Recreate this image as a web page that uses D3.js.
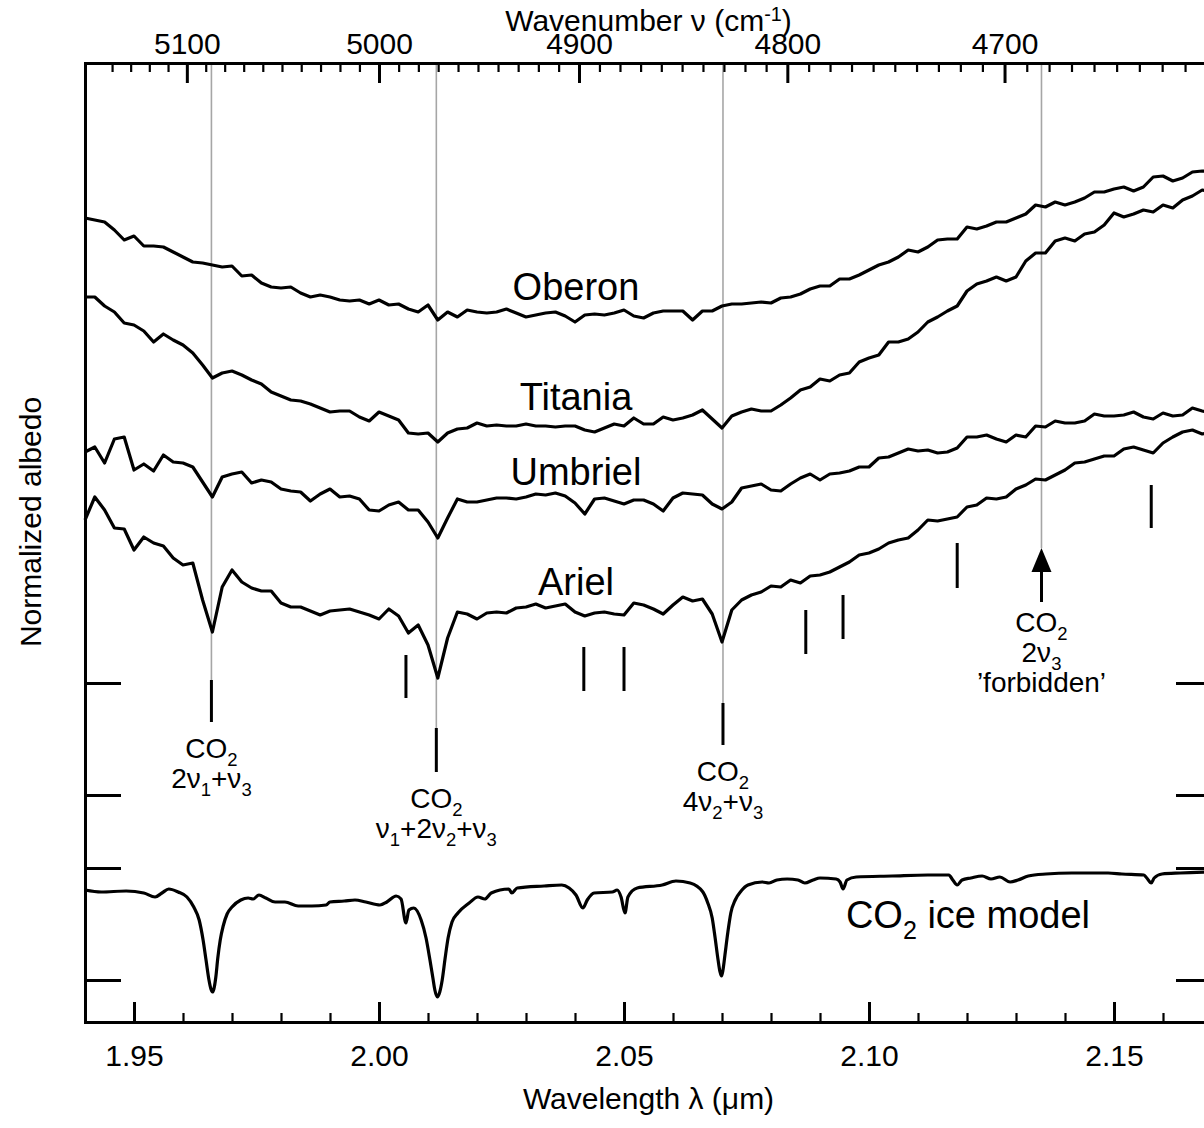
<!DOCTYPE html>
<html>
<head>
<meta charset="utf-8">
<script src="https://cdn.jsdelivr.net/npm/d3@7"></script>
<style>
  html, body { margin: 0; padding: 0; background: #fff; }
  svg { display: block; }
</style>
</head>
<body>
<svg id="chart" width="1204" height="1128"></svg>
<script>
// ---------------- data ----------------
// Common wavelength grid (µm) of the reflectance spectra
const wavelength = [
  1.940,1.942,1.944,1.946,1.948,1.950,1.952,1.954,1.956,1.958,
  1.960,1.962,1.964,1.966,1.968,1.970,1.972,1.974,1.976,1.978,
  1.980,1.982,1.984,1.986,1.988,1.990,1.992,1.994,1.996,1.998,
  2.000,2.002,2.004,2.006,2.008,2.010,2.012,2.014,2.016,2.018,
  2.020,2.022,2.024,2.026,2.028,2.030,2.032,2.034,2.036,2.038,
  2.040,2.042,2.044,2.046,2.048,2.050,2.052,2.054,2.056,2.058,
  2.060,2.062,2.064,2.066,2.068,2.070,2.072,2.074,2.076,2.078,
  2.080,2.082,2.084,2.086,2.088,2.090,2.092,2.094,2.096,2.098,
  2.100,2.102,2.104,2.106,2.108,2.110,2.112,2.114,2.116,2.118,
  2.120,2.122,2.124,2.126,2.128,2.130,2.132,2.134,2.136,2.138,
  2.140,2.142,2.144,2.146,2.148,2.150,2.152,2.154,2.156,2.158,
  2.160,2.162,2.164,2.166,2.168,2.170
];

// Normalized albedo of each satellite (vertically offset for display)
const oberon = [
  .804,.802,.800,.792,.782,.786,.776,.776,.775,.770,
  .765,.760,.759,.757,.755,.756,.746,.747,.739,.735,
  .734,.735,.729,.725,.727,.725,.722,.721,.722,.718,
  .722,.717,.718,.713,.710,.717,.702,.710,.705,.712,
  .710,.709,.710,.713,.709,.705,.707,.709,.710,.706,
  .700,.707,.708,.707,.709,.712,.706,.704,.709,.711,
  .711,.711,.702,.711,.711,.716,.718,.718,.719,.720,
  .719,.724,.725,.728,.733,.736,.736,.743,.743,.747,
  .752,.757,.760,.765,.772,.770,.775,.782,.783,.783,
  .795,.793,.796,.800,.800,.804,.808,.817,.815,.820,
  .817,.820,.824,.830,.830,.833,.835,.831,.835,.845,
  .846,.841,.844,.850,.851,.850
];
const titania = [
  .725,.725,.716,.710,.699,.697,.691,.680,.688,.682,
  .677,.669,.657,.644,.649,.651,.647,.642,.638,.630,
  .626,.622,.621,.618,.614,.610,.611,.611,.605,.601,
  .610,.606,.602,.589,.588,.589,.580,.589,.593,.594,
  .599,.596,.597,.596,.596,.598,.596,.596,.595,.596,
  .596,.592,.590,.594,.598,.596,.604,.598,.598,.605,
  .602,.604,.607,.612,.603,.594,.606,.610,.613,.611,
  .611,.617,.624,.632,.635,.643,.641,.647,.649,.660,
  .664,.667,.680,.680,.683,.690,.700,.705,.711,.716,
  .731,.738,.741,.745,.741,.745,.761,.769,.769,.781,
  .784,.781,.788,.790,.797,.809,.805,.808,.812,.810,
  .817,.814,.822,.826,.832,.830
];
const umbriel = [
  .570,.575,.559,.583,.585,.552,.558,.551,.567,.560,
  .559,.555,.540,.525,.545,.548,.550,.539,.542,.540,
  .533,.531,.530,.521,.528,.533,.525,.526,.523,.512,
  .511,.517,.520,.512,.512,.500,.484,.504,.523,.520,
  .520,.522,.524,.524,.523,.525,.528,.527,.529,.526,
  .519,.508,.523,.524,.521,.518,.522,.522,.518,.511,
  .524,.529,.528,.527,.518,.513,.520,.534,.536,.538,
  .532,.531,.538,.544,.548,.542,.548,.549,.551,.555,
  .555,.564,.565,.569,.573,.571,.572,.569,.570,.574,
  .585,.585,.587,.583,.580,.587,.585,.596,.595,.601,
  .599,.599,.601,.608,.606,.606,.607,.610,.605,.603,
  .609,.606,.607,.614,.611,.609
];
const ariel = [
  .502,.525,.512,.494,.493,.472,.485,.479,.476,.464,
  .457,.459,.422,.390,.435,.452,.440,.434,.431,.431,
  .419,.415,.415,.411,.407,.411,.412,.413,.410,.407,
  .403,.413,.406,.389,.397,.377,.344,.384,.410,.408,
  .403,.409,.410,.409,.414,.415,.418,.414,.416,.418,
  .410,.406,.409,.410,.408,.407,.419,.417,.413,.408,
  .417,.425,.421,.423,.408,.380,.412,.422,.427,.430,
  .436,.435,.442,.439,.446,.447,.450,.455,.460,.467,
  .469,.473,.479,.482,.484,.492,.502,.501,.503,.505,
  .515,.517,.524,.523,.525,.533,.537,.543,.542,.547,
  .552,.559,.560,.563,.566,.566,.573,.575,.572,.569,
  .579,.585,.590,.592,.588,.590
];

// CO2 ice model spectrum (µm, normalized albedo with offset)
const modelWavelength = [
  1.9400,1.9433,1.9484,1.9520,1.9543,1.9557,1.9571,1.9590,1.9608,1.9622,
  1.9633,1.9641,1.9647,1.9653,1.9657,1.9660,1.9663,1.9667,1.9671,1.9676,
  1.9682,1.9690,1.9700,1.9718,1.9733,1.9743,1.9755,1.9769,1.9788,1.9808,
  1.9835,1.9863,1.9892,1.9900,1.9929,1.9951,1.9973,2.0002,2.0016,2.0035,
  2.0045,2.0055,2.0061,2.0071,2.0086,2.0096,2.0104,2.0110,2.0114,2.0119,
  2.0124,2.0129,2.0135,2.0141,2.0149,2.0161,2.0184,2.0202,2.0216,2.0229,
  2.0265,2.0271,2.0282,2.0337,2.0373,2.0388,2.0402,2.0416,2.0425,2.0439,
  2.0476,2.0486,2.0494,2.0502,2.0508,2.0527,2.0578,2.0606,2.0635,2.0661,
  2.0671,2.0680,2.0686,2.0692,2.0696,2.0699,2.0702,2.0706,2.0712,2.0718,
  2.0727,2.0739,2.0753,2.0782,2.0796,2.0812,2.0833,2.0855,2.0869,2.0886,
  2.0900,2.0933,2.0941,2.0947,2.0955,2.0974,2.1047,2.1120,2.1163,2.1171,
  2.1180,2.1190,2.1208,2.1231,2.1249,2.1267,2.1288,2.1304,2.1325,2.1361,
  2.1414,2.1488,2.1516,2.1561,2.1567,2.1576,2.1582,2.1598,2.1635,2.1700
];
const modelAlbedo = [
  .132,.130,.131,.129,.125,.129,.133,.130,.125,.115,
  .102,.082,.062,.042,.033,.030,.033,.045,.064,.082,
  .096,.108,.115,.122,.124,.123,.127,.124,.120,.120,
  .116,.116,.117,.120,.121,.122,.120,.117,.120,.126,
  .123,.099,.112,.114,.102,.084,.062,.044,.032,.025,
  .030,.042,.064,.084,.100,.109,.119,.125,.123,.129,
  .133,.129,.134,.136,.137,.134,.127,.114,.122,.129,
  .130,.132,.125,.109,.125,.134,.137,.141,.139,.130,
  .119,.104,.084,.062,.050,.046,.052,.067,.090,.109,
  .122,.131,.137,.140,.139,.142,.143,.142,.139,.142,
  .144,.143,.140,.133,.142,.145,.146,.147,.147,.142,
  .137,.142,.144,.146,.143,.145,.140,.142,.146,.148,
  .149,.149,.148,.147,.144,.139,.144,.148,.149,.150
];

// Main CO2 bands: centre wavelength (µm) and label lines
const bandCenters = [1.9658, 2.0117, 2.0702, 2.1352];
const bandLabels = [
  ["CO_{2}", "2ν_{1}+ν_{3}"],
  ["CO_{2}", "ν_{1}+2ν_{2}+ν_{3}"],
  ["CO_{2}", "4ν_{2}+ν_{3}"],
  ["CO_{2}", "2ν_{3}", "’forbidden’"]
];
// Albedo span of the marker bar under each of the first three bands
const bandMarkTop    = [0.342, 0.294, 0.319];
const bandMarkBottom = [0.300, 0.250, 0.277];
// Arrow under the 'forbidden' band: shaft base and tip (albedo)
const arrowBase = 0.420, arrowTip = 0.474;

// Weaker CO2 bands: wavelength and albedo span of their marker bars
const weakBands      = [2.0055, 2.0418, 2.0500, 2.0871, 2.0947, 2.1180, 2.1576];
const weakMarkTop    = [0.367, 0.375, 0.375, 0.412, 0.427, 0.479, 0.537];
const weakMarkBottom = [0.324, 0.331, 0.331, 0.368, 0.383, 0.434, 0.494];

// Tick values
const wlMajor = [1.95, 2.00, 2.05, 2.10, 2.15];
const wlMinor = [1.96,1.97,1.98,1.99,2.01,2.02,2.03,2.04,2.06,2.07,2.08,2.09,2.11,2.12,2.13,2.14,2.16];
const wnMajor = [5100, 5000, 4900, 4800, 4700];
const wnMinor = [5140,5130,5120,5110,5090,5080,5070,5060,5050,5040,5030,5020,5010,
                 4990,4980,4970,4960,4950,4940,4930,4920,4910,4890,4880,4870,4860,4850,4840,4830,4820,4810,
                 4790,4780,4770,4760,4750,4740,4730,4720,4710,4690,4680,4670,4660,4650,4640,4630,4620];
const albedoTicks = [0.042, 0.154, 0.227, 0.339];

// Satellite names, in the order their spectra are drawn
const moonNames = ["Oberon", "Titania", "Umbriel", "Ariel"];
const moonSeries = [oberon, titania, umbriel, ariel];

// ---------------- drawing ----------------
const FONT = "'Liberation Sans', Arial, Helvetica, sans-serif";
const svg = d3.select("#chart").attr("font-family", FONT);
svg.append("rect").attr("width", 1204).attr("height", 1128).attr("fill", "#fff");

const x = d3.scaleLinear().domain([1.94, 2.17]).range([85, 1212]);
const y = d3.scaleLinear().domain([0, 0.959]).range([1022, 63]);

// wavenumber (cm^-1) positioned through the wavelength scale
const wn = v => x(1e4 / v);
wn.copy = () => wn;
wn.range = () => x.range();
wn.domain = () => x.domain().map(d => 1e4 / d);

// text with _{sub} and ^{sup} pieces
function rich(textSel, str, supShift = 0.40) {
  const base = +textSel.attr("font-size");
  const re = /([_^])\{([^}]*)\}|([^_^]+)/g;
  let m, shift = 0;
  while ((m = re.exec(str))) {
    if (m[3] !== undefined) {
      const t = textSel.append("tspan").text(m[3]);
      if (shift) { t.attr("dy", -shift); shift = 0; }
    } else {
      const s = m[1] === "_" ? 0.28 * base : -supShift * base;
      textSel.append("tspan").attr("font-size", 0.66 * base).attr("dy", s - shift).text(m[2]);
      shift = s;
    }
  }
}

function styleAxis(g, w) {
  g.attr("font-family", FONT).attr("font-size", 30);
  g.select(".domain").attr("stroke", "#000").attr("stroke-width", 3).attr("stroke-linecap", "square");
  g.selectAll(".tick line").attr("stroke", "#000").attr("stroke-width", w);
  g.selectAll(".tick text").attr("fill", "#000");
}

// gray guide lines at the main bands
const guideEnds = [bandMarkTop[0], bandMarkTop[1], bandMarkTop[2], arrowTip];
svg.append("g").selectAll("line").data(bandCenters).join("line")
  .attr("x1", d => x(d)).attr("x2", d => x(d))
  .attr("y1", y(0.959)).attr("y2", (d, i) => y(guideEnds[i]))
  .attr("stroke", "#a6a6a6").attr("stroke-width", 1.6);

// bottom axis (wavelength)
svg.append("g").attr("transform", `translate(0,${y(0)})`)
  .call(d3.axisBottom(x).tickValues(wlMinor).tickSizeInner(-9).tickSizeOuter(0).tickFormat(""))
  .call(g => styleAxis(g, 2.2));
svg.append("g").attr("transform", `translate(0,${y(0)})`)
  .call(d3.axisBottom(x).tickValues(wlMajor).tickSizeInner(-20).tickSizeOuter(0).tickPadding(23).tickFormat(d3.format(".2f")))
  .call(g => styleAxis(g, 3));

// top axis (wavenumber)
svg.append("g").attr("transform", `translate(0,${y(0.959)})`)
  .call(d3.axisTop(wn).tickValues(wnMinor).tickSizeInner(-9).tickSizeOuter(0).tickFormat(""))
  .call(g => styleAxis(g, 2.2));
svg.append("g").attr("transform", `translate(0,${y(0.959)})`)
  .call(d3.axisTop(wn).tickValues(wnMajor).tickSizeInner(-20).tickSizeOuter(0).tickPadding(9).tickFormat(d3.format("d")))
  .call(g => styleAxis(g, 3));

// left / right axes (unlabelled albedo ticks)
svg.append("g").attr("transform", `translate(${x(1.94)},0)`)
  .call(d3.axisLeft(y).tickValues(albedoTicks).tickSizeInner(-36).tickSizeOuter(0).tickFormat(""))
  .call(g => styleAxis(g, 3));
svg.append("g").attr("transform", `translate(${x(2.17)},0)`)
  .call(d3.axisRight(y).tickValues(albedoTicks).tickSizeInner(-36).tickSizeOuter(0).tickFormat(""))
  .call(g => styleAxis(g, 3));

// axis titles
rich(svg.append("text").attr("x", 648.5).attr("y", 31).attr("text-anchor", "middle")
  .attr("font-size", 30), "Wavenumber ν (cm^{-1})", 0.34);
svg.append("text").attr("x", 648.5).attr("y", 1109).attr("text-anchor", "middle")
  .attr("font-size", 30).text("Wavelength λ (μm)");
svg.append("text").attr("transform", "translate(41,522) rotate(-90)").attr("text-anchor", "middle")
  .attr("font-size", 30).text("Normalized albedo");

// spectra
const line = d3.line().x(d => x(d[0])).y(d => y(d[1]));
svg.append("g").selectAll("path").data(moonSeries).join("path")
  .attr("d", s => line(d3.zip(wavelength, s)))
  .attr("fill", "none").attr("stroke", "#000").attr("stroke-width", 3.2)
  .attr("stroke-linejoin", "round");

const modelLine = d3.line().curve(d3.curveMonotoneX).x(d => x(d[0])).y(d => y(d[1]));
svg.append("path").datum(d3.zip(modelWavelength, modelAlbedo))
  .attr("d", modelLine)
  .attr("fill", "none").attr("stroke", "#000").attr("stroke-width", 3.2)
  .attr("stroke-linejoin", "round");

// satellite names
const moonLabelAlbedo = [0.722, 0.612, 0.537, 0.427];
svg.append("g").selectAll("text").data(moonNames).join("text")
  .attr("x", x(2.0402)).attr("y", (d, i) => y(moonLabelAlbedo[i]))
  .attr("text-anchor", "middle").attr("font-size", 38).text(d => d);
rich(svg.append("text").attr("x", x(2.1202)).attr("y", y(0.094)).attr("text-anchor", "middle")
  .attr("font-size", 38), "CO_{2} ice model");

// marker bars
const marks = svg.append("g").attr("stroke", "#000").attr("stroke-width", 3);
marks.selectAll("line.main").data(bandCenters.slice(0, 3)).join("line").attr("class", "main")
  .attr("x1", d => x(d)).attr("x2", d => x(d))
  .attr("y1", (d, i) => y(bandMarkTop[i])).attr("y2", (d, i) => y(bandMarkBottom[i]));
marks.selectAll("line.weak").data(weakBands).join("line").attr("class", "weak")
  .attr("x1", d => x(d)).attr("x2", d => x(d))
  .attr("y1", (d, i) => y(weakMarkTop[i])).attr("y2", (d, i) => y(weakMarkBottom[i]));

// arrow to the 'forbidden' band
const ax = x(bandCenters[3]);
const headBase = y(arrowTip) + 24;
marks.append("line").attr("x1", ax).attr("x2", ax).attr("y1", y(arrowBase)).attr("y2", headBase);
svg.append("path")
  .attr("d", `M${ax},${y(arrowTip)}L${ax - 10},${headBase}L${ax + 10},${headBase}Z`)
  .attr("fill", "#000");

// band labels below the markers
const labelTop = [y(bandMarkBottom[0]) + 36, y(bandMarkBottom[1]) + 36, y(bandMarkBottom[2]) + 36, y(arrowBase) + 30];
bandLabels.forEach((lines, i) => {
  lines.forEach((s, j) => {
    rich(svg.append("text").attr("x", x(bandCenters[i])).attr("y", labelTop[i] + 30 * j)
      .attr("text-anchor", "middle").attr("font-size", 28), s);
  });
});
</script>
</body>
</html>
